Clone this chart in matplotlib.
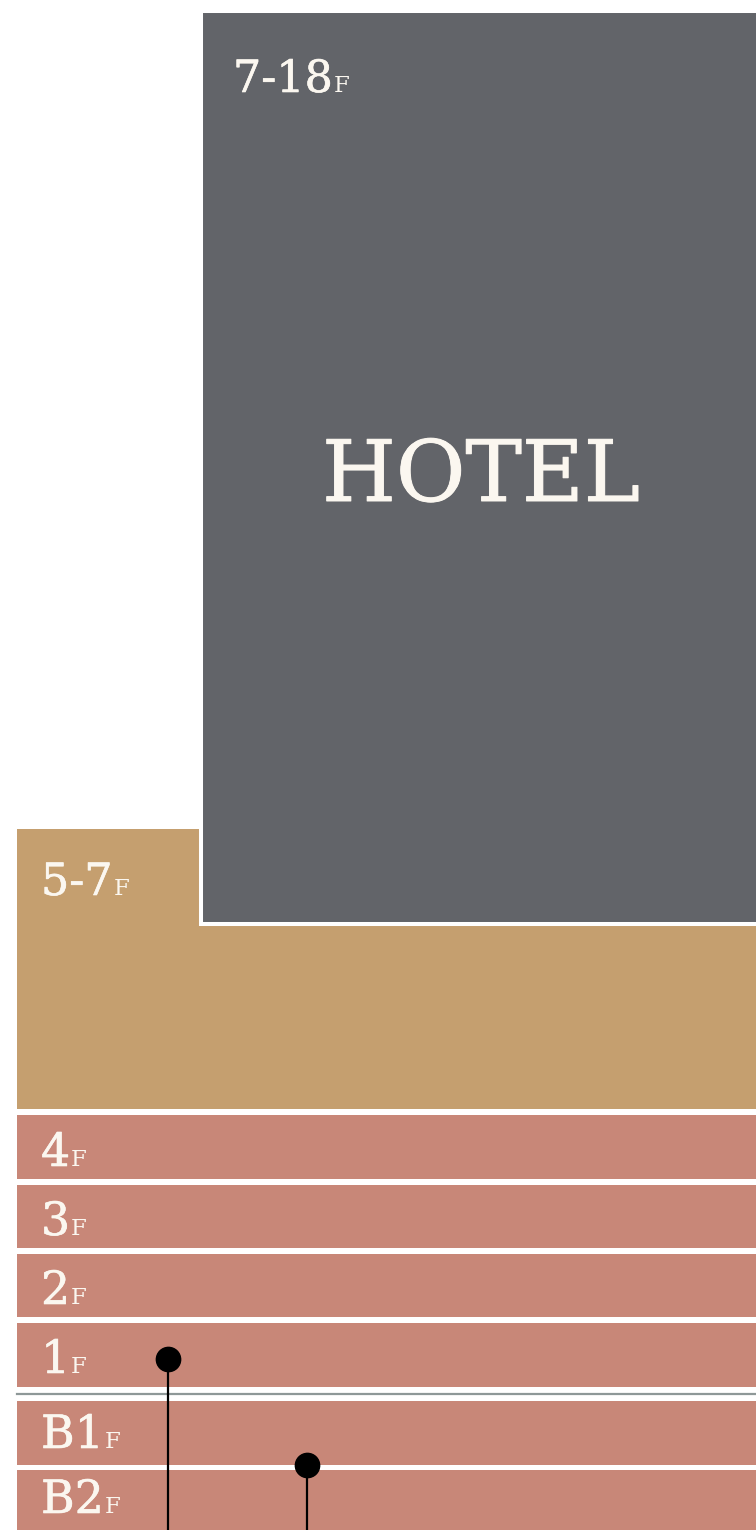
import matplotlib
matplotlib.use("Agg")
import matplotlib.pyplot as plt
import matplotlib.patheffects as pe
from matplotlib.patches import Rectangle

# floors shown on the section, top to bottom
block_labels = ["7-18", "5-7"]
floor_labels = ["4", "3", "2", "1", "B1", "B2"]
hotel_name = "HOTEL"

# layout (pixels of a 756x1530 canvas)
W, H = 756, 1530
hotel_box = (201, 11, 600, 913)       # x, y, w, h
podium_box = (17, 829, 760, 280)
floor_tops = [1115, 1185, 1254, 1323, 1401, 1470]
floor_bots = [1179, 1248, 1317, 1387, 1465, 1540]
label_base = [1166, 1235, 1304, 1373, 1448, 1513]
elevators = [(168, 1359), (307, 1465)]

gray = "#626469"
tan = "#c59f6f"
rose = "#c88778"
txt = "#fbf7f0"
font = "DejaVu Serif"
thick = [pe.withStroke(linewidth=0.45, foreground=txt)]

fig = plt.figure(figsize=(W / 100, H / 100), dpi=100)
ax = fig.add_axes([0, 0, 1, 1])
ax.set_xlim(0, W)
ax.set_ylim(H, 0)
ax.axis("off")

ax.add_patch(Rectangle(podium_box[:2], podium_box[2], podium_box[3],
                       facecolor=tan, edgecolor="none", zorder=1))
ax.add_patch(Rectangle(hotel_box[:2], hotel_box[2], hotel_box[3],
                       facecolor=gray, edgecolor="white", linewidth=2.9, zorder=2))

for top, bot in zip(floor_tops, floor_bots):
    ax.add_patch(Rectangle((17, top), 760, bot - top, facecolor=rose,
                           edgecolor="none", zorder=1))

# ground line between 1F and B1F
ax.plot([17, W], [1393.5, 1393.5], color="#8e9898", lw=1.6, zorder=3)

# elevator markers
for x, y in elevators:
    ax.plot([x, x], [y, H + 10], color="black", lw=1.6, zorder=4)
    ax.plot(x, y, "o", color="black", markersize=17.5, zorder=5)

ax.text(481, 501, hotel_name, color=txt, fontsize=61, family=font,
        ha="center", va="baseline", zorder=6,
        path_effects=[pe.withStroke(linewidth=0.7, foreground=txt)])

labels = []
labels.append(ax.text(233, 92, block_labels[0], color=txt, fontsize=32,
                      family=font, va="baseline", zorder=6, path_effects=thick))
labels.append(ax.text(41, 895, block_labels[1], color=txt, fontsize=32,
                      family=font, va="baseline", zorder=6, path_effects=thick))
for lab, yb in zip(floor_labels, label_base):
    labels.append(ax.text(41, yb, lab, color=txt, fontsize=33, family=font,
                          va="baseline", zorder=6, path_effects=thick))

# small "F" after each floor number
fig.canvas.draw()
r = fig.canvas.get_renderer()
inv = ax.transData.inverted()
for t in labels:
    bb = t.get_window_extent(r)
    x1 = inv.transform((bb.x1, bb.y0))[0]
    ax.text(x1 + 1, t.get_position()[1], "F", color=txt, fontsize=16.5,
            family=font, va="baseline", zorder=6)

fig.savefig("out.png", dpi=100)
